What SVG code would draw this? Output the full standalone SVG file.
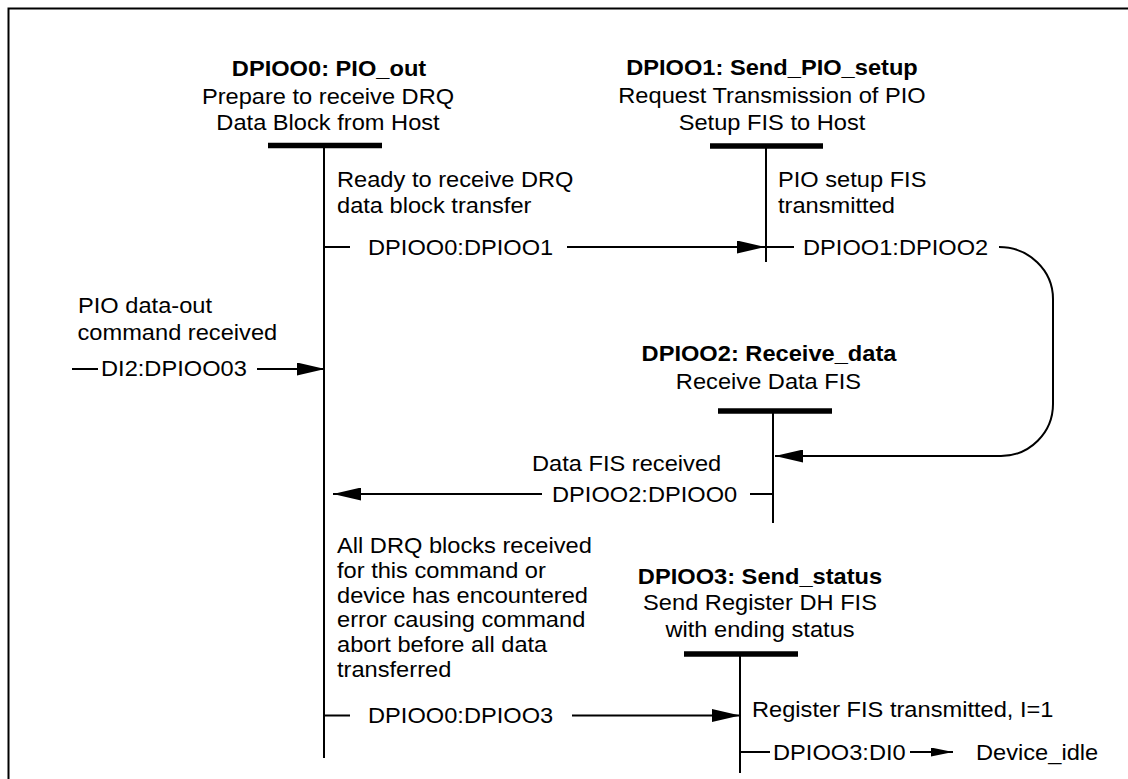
<svg xmlns="http://www.w3.org/2000/svg" width="1128" height="779" viewBox="0 0 1128 779">
<style>
.t{font-family:"Liberation Sans",Arial,sans-serif;font-size:22px;fill:#000}
.b{font-weight:bold}
.m{text-anchor:middle}
.bar{stroke:#000;stroke-width:5.5;fill:none}
.v{stroke:#000;stroke-width:2;fill:none}
.c{stroke:#000;stroke-width:2;fill:none}
.frame{stroke:#000;stroke-width:2;fill:none}
</style>
<defs>
<marker id="ah" viewBox="0 0 28 13" refX="28" refY="6.5" markerWidth="28" markerHeight="13" markerUnits="userSpaceOnUse" orient="auto">
<polygon points="0,0 28,6.5 0,13" fill="#000"/>
</marker>
<marker id="ahs" viewBox="0 0 22 9" refX="22" refY="4.5" markerWidth="22" markerHeight="9" markerUnits="userSpaceOnUse" orient="auto">
<polygon points="0,0 22,4.5 0,9" fill="#000"/>
</marker>
</defs>
<rect width="1128" height="779" fill="#fff"/>
<path class="frame" d="M8.5 779 V8.5 H1128"/>

<g id="node-dpioo0">
<text class="t b m" transform="translate(329 76) scale(1.075 1)">DPIOO0: PIO_out</text>
<text class="t m" transform="translate(328 104) scale(1.075 1)">Prepare to receive DRQ</text>
<text class="t m" transform="translate(328 130) scale(1.075 1)">Data Block from Host</text>
<line class="bar" x1="268" y1="145.5" x2="382" y2="145.5"/>
<line class="v" x1="324" y1="145" x2="324" y2="758"/>
</g>

<g id="node-dpioo1">
<text class="t b m" transform="translate(772 75) scale(1.075 1)">DPIOO1: Send_PIO_setup</text>
<text class="t m" transform="translate(772 103) scale(1.075 1)">Request Transmission of PIO</text>
<text class="t m" transform="translate(772 129.5) scale(1.075 1)">Setup FIS to Host</text>
<line class="bar" x1="710" y1="146" x2="823" y2="146"/>
<line class="v" x1="766" y1="146" x2="766" y2="262"/>
</g>

<g id="node-dpioo2">
<text class="t b m" transform="translate(769 361) scale(1.075 1)">DPIOO2: Receive_data</text>
<text class="t m" transform="translate(768.5 388.5) scale(1.075 1)">Receive Data FIS</text>
<line class="bar" x1="718" y1="411" x2="832" y2="411"/>
<line class="v" x1="773" y1="411" x2="773" y2="523"/>
</g>

<g id="node-dpioo3">
<text class="t b m" transform="translate(760 583.5) scale(1.075 1)">DPIOO3: Send_status</text>
<text class="t m" transform="translate(760 610) scale(1.075 1)">Send Register DH FIS</text>
<text class="t m" transform="translate(760 636.5) scale(1.075 1)">with ending status</text>
<line class="bar" x1="684" y1="654" x2="798" y2="654"/>
<line class="v" x1="740" y1="654" x2="740" y2="773"/>
</g>

<g id="node-device-idle">
<text class="t" transform="translate(976 760) scale(1.075 1)">Device_idle</text>
</g>

<g id="connectors">
<line class="c" x1="72" y1="369" x2="98" y2="369"/>
<line class="c" x1="257" y1="369" x2="325" y2="369" marker-end="url(#ah)"/>
<line class="c" x1="324" y1="247" x2="350" y2="247"/>
<line class="c" x1="567" y1="247" x2="765" y2="247" marker-end="url(#ah)"/>
<line class="c" x1="766" y1="247" x2="794" y2="247"/>
<path class="c" d="M999 247 A54 52 0 0 1 1053 299 V404 A52 52 0 0 1 1001 456 H775" marker-end="url(#ah)"/>
<line class="c" x1="750" y1="494" x2="773" y2="494"/>
<line class="c" x1="542" y1="494" x2="333" y2="494" marker-end="url(#ah)"/>
<line class="c" x1="324" y1="715.5" x2="350" y2="715.5"/>
<line class="c" x1="572" y1="715.5" x2="740" y2="715.5" marker-end="url(#ah)"/>
<line class="c" x1="740" y1="752" x2="770" y2="752"/>
<line class="c" x1="910" y1="752" x2="953" y2="752" marker-end="url(#ahs)"/>
</g>

<g id="labels">
<text class="t" transform="translate(78 312.5) scale(1.075 1)">PIO data-out</text>
<text class="t" transform="translate(77.5 340) scale(1.075 1)">command received</text>
<text class="t" transform="translate(101 375.5) scale(1.075 1)">DI2:DPIOO03</text>

<text class="t" transform="translate(337 187) scale(1.075 1)">Ready to receive DRQ</text>
<text class="t" transform="translate(337 213) scale(1.075 1)">data block transfer</text>
<text class="t" transform="translate(368 255) scale(1.075 1)">DPIOO0:DPIOO1</text>

<text class="t" transform="translate(778 187) scale(1.075 1)">PIO setup FIS</text>
<text class="t" transform="translate(778 213) scale(1.075 1)">transmitted</text>
<text class="t" transform="translate(803 255) scale(1.075 1)">DPIOO1:DPIOO2</text>

<text class="t" transform="translate(532 471) scale(1.075 1)">Data FIS received</text>
<text class="t" transform="translate(552 502) scale(1.075 1)">DPIOO2:DPIOO0</text>

<text class="t" transform="translate(337 553) scale(1.075 1)">All DRQ blocks received</text>
<text class="t" transform="translate(337 577.8) scale(1.075 1)">for this command or</text>
<text class="t" transform="translate(337 602.6) scale(1.075 1)">device has encountered</text>
<text class="t" transform="translate(337 627.4) scale(1.075 1)">error causing command</text>
<text class="t" transform="translate(337 652.2) scale(1.075 1)">abort before all data</text>
<text class="t" transform="translate(337 677) scale(1.075 1)">transferred</text>
<text class="t" transform="translate(368 723) scale(1.075 1)">DPIOO0:DPIOO3</text>

<text class="t" transform="translate(752 716.5) scale(1.075 1)">Register FIS transmitted, I=1</text>
<text class="t" transform="translate(773 760) scale(1.075 1)">DPIOO3:DI0</text>
</g>
</svg>
